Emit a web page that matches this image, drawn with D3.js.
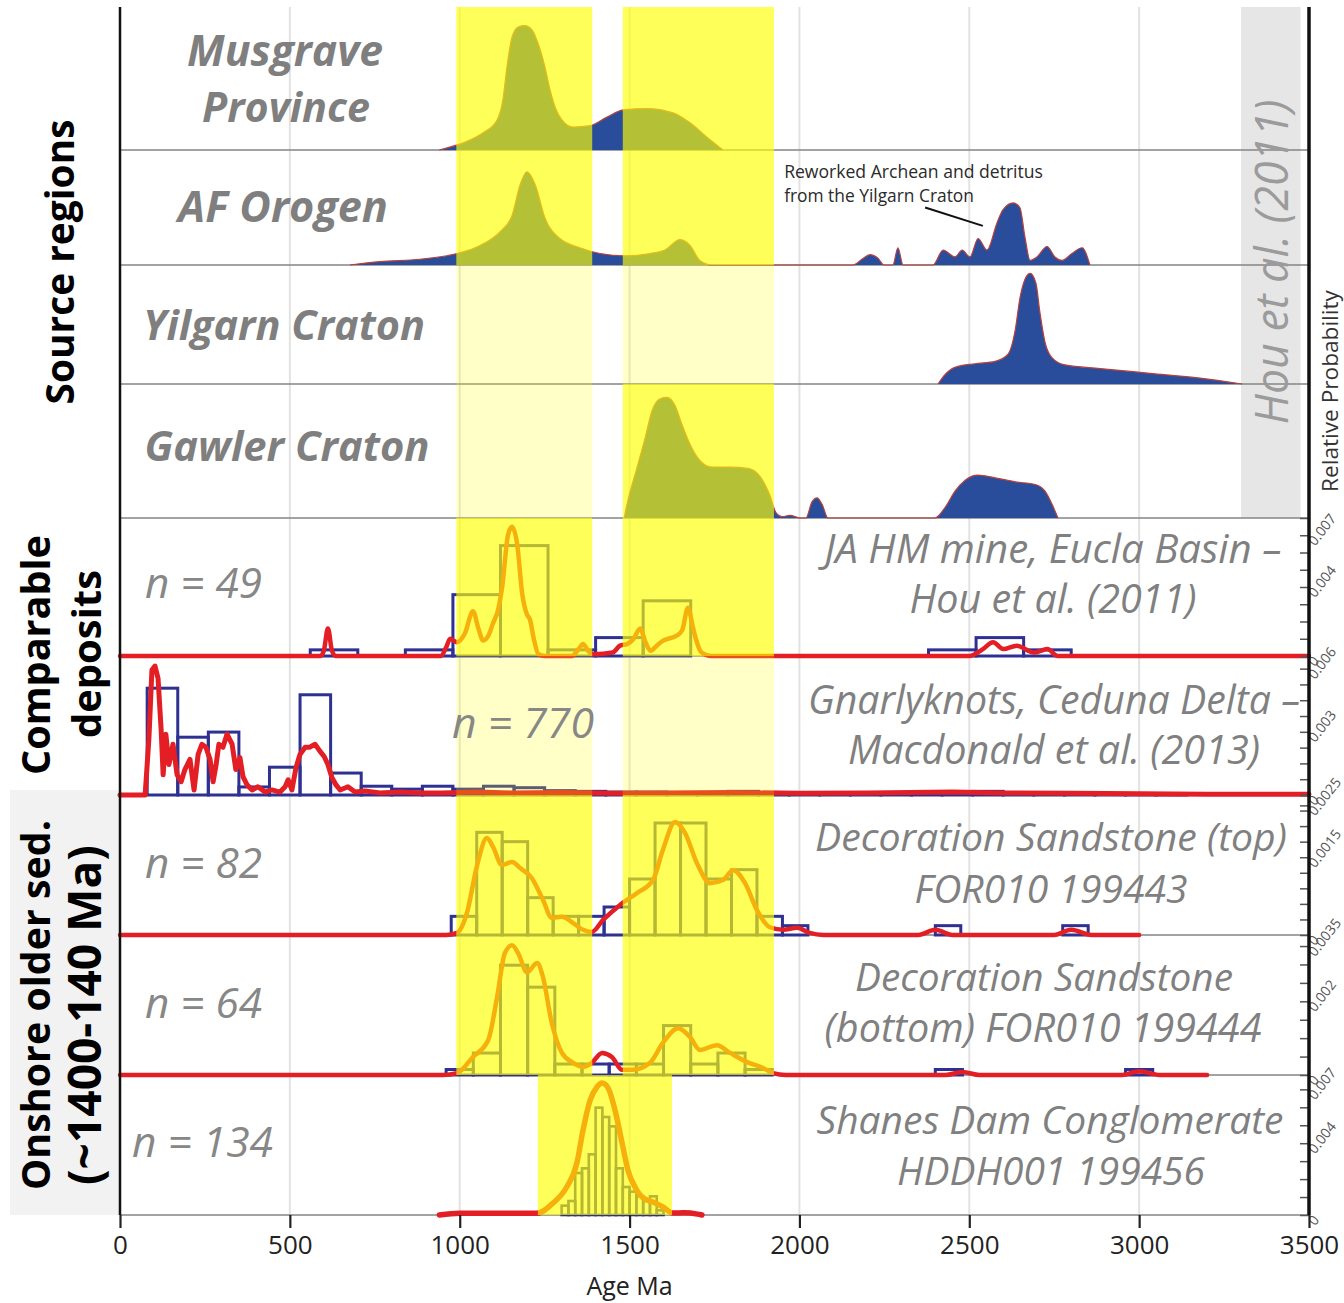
<!DOCTYPE html>
<html><head><meta charset="utf-8">
<script src="https://cdn.jsdelivr.net/npm/d3@7"></script>
<style>
html,body{margin:0;padding:0;background:#fff;}
svg{display:block;}
text{font-family:"Open Sans",sans-serif;}
</style></head><body>
<svg id="chart" width="1344" height="1303"></svg>
<script>
// ---------------- DATA ----------------
const xTickValues = [0, 500, 1000, 1500, 2000, 2500, 3000, 3500];
const xAxisTitle = "Age Ma";
const highlightBands = [[990, 1390], [1480, 1925]];
const shanesBand = [1230, 1625];

// Source regions: relative probability (fraction of panel height) vs age (Ma)
const musgraveCurve = [[940,0],[971,0.02],[1021,0.06],[1069,0.12],[1110,0.21],[1127,0.35],[1139,0.58],[1154,0.79],[1172,0.86],[1192,0.87],[1213,0.84],[1230,0.75],[1251,0.58],[1266,0.42],[1281,0.30],[1301,0.21],[1334,0.16],[1384,0.17],[1434,0.23],[1481,0.28],[1551,0.29],[1628,0.26],[1678,0.19],[1728,0.09],[1775,0]];
const afOrogenCurve = [[677,0],[765,0.03],[883,0.05],[992,0.10],[1060,0.17],[1119,0.29],[1154,0.43],[1178,0.70],[1198,0.81],[1222,0.70],[1251,0.41],[1295,0.23],[1354,0.15],[1413,0.10],[1487,0.08],[1560,0.10],[1604,0.13],[1648,0.22],[1678,0.17],[1707,0.04],[1743,0],
  [2158,0],[2184,0.05],[2208,0.09],[2231,0.06],[2249,0],[2275,0],[2290,0.15],[2305,0],[2393,0],[2423,0.13],[2458,0.07],[2479,0.13],[2502,0.07],[2526,0.23],[2552,0.13],[2582,0.37],[2599,0.48],[2629,0.54],[2649,0.50],[2664,0.24],[2679,0.04],[2699,0.07],[2729,0.16],[2752,0.07],[2773,0.04],[2802,0.10],[2832,0.15],[2855,0]];
const yilgarnCurve = [[2408,0],[2429,0.08],[2458,0.14],[2517,0.17],[2576,0.19],[2614,0.25],[2635,0.45],[2649,0.72],[2664,0.88],[2679,0.93],[2696,0.85],[2708,0.60],[2723,0.35],[2744,0.22],[2782,0.16],[2885,0.13],[3032,0.09],[3179,0.05],[3303,0]];
const gawlerCurve = [[1484,0],[1495,0.13],[1519,0.35],[1546,0.60],[1566,0.80],[1590,0.89],[1610,0.90],[1634,0.84],[1654,0.70],[1678,0.55],[1707,0.43],[1743,0.38],[1796,0.38],[1849,0.37],[1884,0.31],[1913,0.17],[1931,0.04],[1950,0.01],[1972,0.02],[2002,0],
  [2019,0],[2037,0.12],[2052,0.15],[2067,0.10],[2084,0],[2399,0],[2429,0.08],[2458,0.20],[2487,0.28],[2526,0.32],[2576,0.30],[2635,0.27],[2694,0.25],[2723,0.20],[2744,0.10],[2761,0]];
const sourceRegionLabels = [["Musgrave","Province"],["AF Orogen"],["Yilgarn Craton"],["Gawler Craton"]];
const annotationLines = ["Reworked Archean and detritus","from the Yilgarn Craton"];

// Comparable deposits / onshore sediments: histograms [bin start, count] and probability density
const jaHmBinWidth = 140;
const jaHmHist = [[560,1],[840,1],[980,10],[1120,18],[1260,1],[1400,3],[1540,9],[2380,1],[2520,3],[2660,1]];
const jaHmDensity = [[0,0],[590,0],[600,0.0003],[612,0.0016],[624,0.0003],[635,0],[945,0],[960,0.0005],[972,0.0010],[992,0.0008],[1015,0.0013],[1039,0.0026],[1055,0.0016],[1069,0.0009],[1085,0.0012],[1098,0.0019],[1112,0.0026],[1125,0.0040],[1142,0.0070],[1154,0.0075],[1169,0.0065],[1184,0.0036],[1198,0.0024],[1207,0.0021],[1218,0.0010],[1232,0.0001],[1250,0],[1330,0],[1350,0.0004],[1363,0.0007],[1378,0.0003],[1395,0.0001],[1450,0.0002],[1472,0.0006],[1493,0.0007],[1512,0.0010],[1531,0.0016],[1547,0.0008],[1562,0.0003],[1580,0.0006],[1600,0.0009],[1640,0.0012],[1655,0.0015],[1672,0.0028],[1685,0.0018],[1695,0.0010],[1712,0.0002],[1740,0],[2500,0],[2540,0.0004],[2570,0.0008],[2600,0.0004],[2640,0.0006],[2690,0.0002],[2730,0.0004],[2760,0],[3500,0]];
const jaHmAxisLabels = [0, 0.004, 0.007];

const gnarlyBinWidth = 90;
const gnarlyHist = [[80,146],[170,79],[260,86],[350,11],[440,38],[530,137],[620,30],[710,12],[800,8],[890,12],[980,8],[1070,12],[1160,10],[1250,6],[1340,5],[1430,4],[1520,4],[1610,3],[1700,3],[1790,5],[1880,3],[1970,2],[2060,2],[2150,2],[2240,3],[2330,4],[2420,4],[2510,5],[2600,3],[2690,2],[2780,2],[2870,2],[2960,1],[3050,1]];
const gnarlyDensity = [[0,0],[74,0],[85,0.00265],[94,0.00593],[103,0.00612],[112,0.00554],[121,0.00313],[127,0.00096],[135,0.00289],[144,0.00145],[156,0.00241],[168,0.00096],[180,0.00063],[191,0.00121],[206,0.00169],[218,0.00024],[230,0.00193],[241,0.00241],[253,0.00227],[265,0.00169],[274,0.00063],[283,0.00145],[291,0.00241],[303,0.00227],[315,0.00289],[330,0.00241],[341,0.00121],[353,0.00178],[362,0.00087],[374,0.00048],[389,0.00024],[406,0.00039],[427,0.00014],[447,0.00024],[471,0.00014],[486,0.00039],[495,0.00072],[506,0.00024],[518,0.0013],[530,0.00193],[545,0.00227],[559,0.00227],[574,0.00241],[589,0.00207],[601,0.00183],[612,0.00145],[624,0.00082],[636,0.00048],[648,0.00024],[671,0.00039],[692,0.00014],[721,0.00019],[765,0.0001],[824,0.00014],[883,0.0001],[950,0.0001],[1050,0.00014],[1150,0.0001],[1300,0.00012],[1450,0.00008],[1600,0.0001],[1800,0.00012],[2000,0.00008],[2200,0.0001],[2450,0.00014],[2600,0.0001],[2800,0.00008],[3000,0.00006],[3200,0.00004],[3500,0.00003]];
const gnarlyAxisLabels = [0, 0.003, 0.006];

const decoTopBinWidth = 75;
const decoTopHist = [[975,2],[1050,11],[1125,10],[1200,4],[1275,2],[1350,2],[1425,3],[1500,6],[1575,12],[1650,12],[1725,6],[1800,7],[1875,2],[1950,1],[2400,1],[2775,1]];
const decoTopDensity = [[0,0],[960,0],[992,0.00004],[1021,0.00042],[1050,0.00131],[1080,0.00187],[1098,0.0017],[1124,0.00135],[1154,0.00141],[1178,0.00129],[1212,0.0011],[1245,0.00068],[1271,0.00033],[1301,0.00035],[1334,0.00023],[1363,0.0001],[1389,0.00006],[1422,0.00029],[1472,0.00058],[1522,0.00081],[1569,0.00106],[1598,0.00164],[1634,0.00218],[1663,0.00197],[1698,0.00139],[1737,0.001],[1775,0.00106],[1805,0.00125],[1840,0.001],[1875,0.00048],[1913,0.00015],[1952,0.0001],[1993,0.00014],[2030,0.00004],[2070,0],[2350,0],[2400,0.0001],[2450,0],[2750,0],[2800,0.0001],[2860,0],[3000,0]];
const decoTopAxisLabels = [0, 0.0015, 0.0025];

const decoBotBinWidth = 80;
const decoBotHist = [[960,1],[1040,4],[1120,20],[1200,16],[1280,2],[1360,2],[1440,2],[1520,2],[1600,9],[1680,2],[1760,4],[1840,1],[2400,1],[2960,1]];
const decoBotDensity = [[0,0],[950,0],[992,0.00005],[1039,0.00049],[1084,0.00095],[1110,0.00211],[1133,0.00331],[1154,0.00352],[1172,0.00331],[1198,0.00279],[1228,0.00304],[1245,0.00266],[1271,0.00141],[1301,0.0006],[1334,0.00033],[1363,0.00022],[1389,0.00033],[1419,0.0006],[1448,0.00049],[1478,0.00014],[1510,0.00014],[1560,0.00033],[1598,0.00087],[1643,0.00127],[1678,0.00103],[1707,0.00068],[1757,0.00081],[1796,0.0006],[1846,0.00035],[1893,0.00019],[1922,0.00005],[1960,0],[2430,0],[2480,0.00008],[2530,0],[2950,0],[3000,0.0001],[3060,0],[3200,0]];
const decoBotAxisLabels = [0, 0.002, 0.0035];

const shanesBinWidth = 20;
const shanesHist = [[1300,2],[1320,3],[1340,9],[1360,10],[1380,13],[1400,23],[1420,21],[1440,19],[1460,10],[1480,6],[1500,5],[1520,4],[1540,3],[1560,4],[1580,1]];
const shanesDensity = [[940,0],[1000,0.0001],[1100,0.0001],[1200,0.0001],[1228,0.0001],[1275,0.00067],[1315,0.00156],[1345,0.0029],[1363,0.00473],[1384,0.0064],[1404,0.00713],[1419,0.00735],[1437,0.00707],[1457,0.00585],[1478,0.00401],[1495,0.00251],[1516,0.00156],[1540,0.00095],[1569,0.00072],[1598,0.00045],[1628,0.00011],[1660,0.00012],[1700,0.00005],[1713,0]];
const shanesAxisLabels = [0, 0.004, 0.007];

const sampleSizes = [49, 770, 82, 64, 134];
const sampleTitles = [["JA HM mine, Eucla Basin –","Hou et al. (2011)"],["Gnarlyknots, Ceduna Delta –","Macdonald et al. (2013)"],["Decoration Sandstone (top)","FOR010 199443"],["Decoration Sandstone","(bottom) FOR010 199444"],["Shanes Dam Conglomerate","HDDH001 199456"]];

// ---------------- LAYOUT ----------------
const svg = d3.select("#chart");
const x = d3.scaleLinear().domain([0, 3500]).range([120, 1309]);
const edges = [7, 150, 265, 384, 518, 656, 795, 935, 1075, 1215];
const FULL = 0.65, PALE = 0.22;
const bandOpacity = [[FULL,FULL],[FULL,FULL],[PALE,PALE],[PALE,FULL],[FULL,FULL],[PALE,PALE],[FULL,FULL],[FULL,FULL]];

function fit(sel, target) {
  const fs = parseFloat(sel.attr("font-size"));
  const w = sel.node().getComputedTextLength();
  sel.attr("font-size", (fs * target / w).toFixed(2));
  return sel;
}

// background: onshore block shading & reference grey band
svg.append("rect").attr("x", 10).attr("y", 790).attr("width", 110).attr("height", 425).attr("fill", "#f2f2f2");
svg.append("rect").attr("x", x(3300)).attr("y", edges[0]).attr("width", x(3475) - x(3300)).attr("height", edges[4] - edges[0]).attr("fill", "#e6e6e6");

// grid
svg.append("g").selectAll("line").data(xTickValues.slice(1, -1)).join("line")
  .attr("x1", d => x(d)).attr("x2", d => x(d)).attr("y1", edges[0]).attr("y2", edges[9])
  .attr("stroke", "#e2e2e2").attr("stroke-width", 2);

// panel separators
svg.append("g").selectAll("line").data(edges.slice(1)).join("line")
  .attr("x1", x(0)).attr("x2", x(3500)).attr("y1", d => d).attr("y2", d => d)
  .attr("stroke", "#858585").attr("stroke-width", 1.6);

// top source-region panels
const topCurves = [musgraveCurve, afOrogenCurve, yilgarnCurve, gawlerCurve];
topCurves.forEach((curve, i) => {
  const y = d3.scaleLinear().domain([0, 1]).range([edges[i + 1], edges[i]]);
  const area = d3.area().x(d => x(d[0])).y0(y(0)).y1(d => y(d[1])).curve(d3.curveMonotoneX);
  svg.append("path").datum(curve).attr("d", area).attr("fill", "#2a4d9b");
  const flags = curve.map((d, k) => d[1] > 0 || (k > 0 && curve[k - 1][1] > 0) || (k < curve.length - 1 && curve[k + 1][1] > 0));
  const line = d3.line().defined((d, k) => flags[k]).x(d => x(d[0])).y(d => y(d[1])).curve(d3.curveMonotoneX);
  svg.append("path").datum(curve).attr("d", line).attr("fill", "none").attr("stroke", "#b8403a").attr("stroke-width", 1.2);
  if (i === 1) {
    svg.append("line").attr("x1", x(2370)).attr("y1", y(0.50)).attr("x2", x(2540)).attr("y2", y(0.34))
      .attr("stroke", "#111").attr("stroke-width", 2);
  }
});

// lower panels
const lower = [
  {hist: jaHmHist, w: jaHmBinWidth, dens: jaHmDensity, yMax: 0.0080, cMax: 22.5, step: 0.001, labels: jaHmAxisLabels, sw: 3, curve: d3.curveMonotoneX},
  {hist: gnarlyHist, w: gnarlyBinWidth, dens: gnarlyDensity, yMax: 0.0066, cMax: 190, step: 0.00075, labels: gnarlyAxisLabels, sw: 3, curve: d3.curveLinear},
  {hist: decoTopHist, w: decoTopBinWidth, dens: decoTopDensity, yMax: 0.0027, cMax: 15, step: 0.0003, labels: decoTopAxisLabels, sw: 3, curve: d3.curveMonotoneX},
  {hist: decoBotHist, w: decoBotBinWidth, dens: decoBotDensity, yMax: 0.0038, cMax: 25.5, step: 0.0005, labels: decoBotAxisLabels, sw: 3, curve: d3.curveMonotoneX},
  {hist: shanesHist, w: shanesBinWidth, dens: shanesDensity, yMax: 0.0078, cMax: 30, step: 0.001, labels: shanesAxisLabels, sw: 2.6, curve: d3.curveMonotoneX}
];
lower.forEach((p, j) => {
  const top = edges[4 + j], bot = edges[5 + j];
  const yc = d3.scaleLinear().domain([0, p.cMax]).range([bot, top]);
  const yd = d3.scaleLinear().domain([0, p.yMax]).range([bot, top]);
  svg.append("g").selectAll("rect").data(p.hist).join("rect")
    .attr("x", d => x(d[0])).attr("width", d => x(d[0] + p.w) - x(d[0]))
    .attr("y", d => yc(d[1])).attr("height", d => bot - yc(d[1]))
    .attr("fill", "none").attr("stroke", "#2e3192").attr("stroke-width", p.sw);
  const line = d3.line().x(d => x(d[0])).y(d => yd(d[1])).curve(p.curve);
  svg.append("path").datum(p.dens).attr("d", line).attr("fill", "none")
    .attr("stroke", "#e31e24").attr("stroke-width", j === 4 ? 5.5 : (j === 1 ? 5 : 4.5))
    .attr("stroke-linejoin", "round").attr("stroke-linecap", "round");
  // right axis
  const tv = Array.from(new Set(d3.range(0, p.yMax + 1e-9, p.step).map(v => +v.toFixed(6)).concat(p.labels)));
  const ax = d3.axisRight(yd).tickValues(tv).tickSizeInner(-9).tickSizeOuter(0)
    .tickFormat(v => p.labels.some(l => Math.abs(l - v) < 1e-9) ? String(v) : "");
  const g = svg.append("g").attr("transform", `translate(${x(3500)},0)`).call(ax)
    .attr("font-size", 14).attr("font-family", "Open Sans, sans-serif");
  g.select(".domain").remove();
  g.selectAll(".tick line").attr("stroke", "#555").attr("stroke-width", 1.5);
  g.selectAll(".tick text").attr("x", null).attr("dy", null)
    .attr("transform", "translate(6,11) rotate(-52)").attr("text-anchor", "start")
    .style("font-size", "14px").attr("fill", "#555");
});

// yellow highlight overlays
const ov = svg.append("g");
bandOpacity.forEach((ops, i) => {
  highlightBands.forEach((b, k) => {
    ov.append("rect").attr("x", x(b[0])).attr("width", x(b[1]) - x(b[0]))
      .attr("y", edges[i]).attr("height", edges[i + 1] - edges[i])
      .attr("fill", "#ffff00").attr("opacity", ops[k]);
  });
});
ov.append("rect").attr("x", x(shanesBand[0])).attr("width", x(shanesBand[1]) - x(shanesBand[0]))
  .attr("y", edges[8]).attr("height", edges[9] - edges[8]).attr("fill", "#ffff00").attr("opacity", FULL);

// axes lines
svg.append("line").attr("x1", x(0)).attr("x2", x(0)).attr("y1", edges[0]).attr("y2", edges[9]).attr("stroke", "#111").attr("stroke-width", 2.5);
svg.append("line").attr("x1", x(3500)).attr("x2", x(3500)).attr("y1", edges[0]).attr("y2", edges[9]).attr("stroke", "#111").attr("stroke-width", 3.5);

const xa = svg.append("g").attr("transform", `translate(0,${edges[9]})`)
  .call(d3.axisBottom(x).tickValues(xTickValues).tickFormat(d3.format("d")).tickSize(13).tickPadding(8));
xa.select(".domain").remove();
xa.selectAll(".tick line").attr("stroke", "#222").attr("stroke-width", 2.2);
xa.selectAll(".tick text").attr("font-size", 26).attr("fill", "#222").attr("font-family", "Open Sans, sans-serif");
svg.append("text").attr("x", x(1500)).attr("y", 1295).attr("text-anchor", "middle")
  .attr("font-size", 25).attr("fill", "#222").text(xAxisTitle);

// top panel labels
const topLabelPos = [[[285, 66, 196], [286, 122, 168]], [[283, 222, 210]], [[284, 340, 282]], [[287, 461, 285]]];
sourceRegionLabels.forEach((lines, i) => {
  lines.forEach((t, k) => {
    const [cx, by, w] = topLabelPos[i][k];
    fit(svg.append("text").attr("x", cx).attr("y", by).attr("text-anchor", "middle")
      .attr("font-size", 40).attr("font-weight", 700).attr("font-style", "italic")
      .attr("fill", "#7f7f7f").text(t), w);
  });
});

// annotation
annotationLines.forEach((t, k) => {
  fit(svg.append("text").attr("x", x(1955)).attr("y", 178 + k * 24).attr("font-size", 17)
    .attr("fill", "#2a2a2a").text(t), k === 0 ? 259 : 190);
});

// n labels
const nPos = [[145, 598, 117], [452, 738, 142], [145, 878, 117], [145, 1018, 117], [132, 1157, 141]];
sampleSizes.forEach((n, j) => {
  const [lx, ly, w] = nPos[j];
  fit(svg.append("text").attr("x", lx).attr("y", ly).attr("font-size", 38).attr("font-style", "italic")
    .attr("fill", "#878787").text("n = " + n), w);
});

// sample titles
const titlePos = [[[1053, 563, 457], [1053, 613, 287]], [[1054, 714, 492], [1054, 764, 412]], [[1051, 851, 472], [1051, 903, 273]], [[1044, 991, 378], [1043, 1042, 437]], [[1050, 1134, 467], [1051, 1185, 308]]];
sampleTitles.forEach((lines, j) => {
  lines.forEach((t, k) => {
    const [cx, by, w] = titlePos[j][k];
    fit(svg.append("text").attr("x", cx).attr("y", by).attr("text-anchor", "middle")
      .attr("font-size", 36).attr("font-style", "italic").attr("fill", "#808080").text(t), w);
  });
});

// rotated group labels
const rotLabels = [["Source regions", 74, 262, 285], ["Comparable", 50, 655, 240], ["deposits", 101, 654, 168], ["Onshore older sed.", 50, 1005, 370], ["(~1400-140 Ma)", 101, 1015, 340]];
rotLabels.forEach(([t, bx, cy, w]) => {
  fit(svg.append("text").attr("transform", `translate(${bx},${cy}) rotate(-90)`).attr("text-anchor", "middle")
    .attr("font-size", 36).attr("font-weight", 700).attr("fill", "#000").text(t), w);
});

fit(svg.append("text").attr("transform", `translate(1288,262) rotate(-90)`).attr("text-anchor", "middle")
  .attr("font-size", 44).attr("font-style", "italic").attr("fill", "#9b9b9b").text("Hou et al. (2011)"), 325);
fit(svg.append("text").attr("transform", `translate(1338,391) rotate(-90)`).attr("text-anchor", "middle")
  .attr("font-size", 17).attr("fill", "#333").text("Relative Probability"), 202);
</script></body></html>
